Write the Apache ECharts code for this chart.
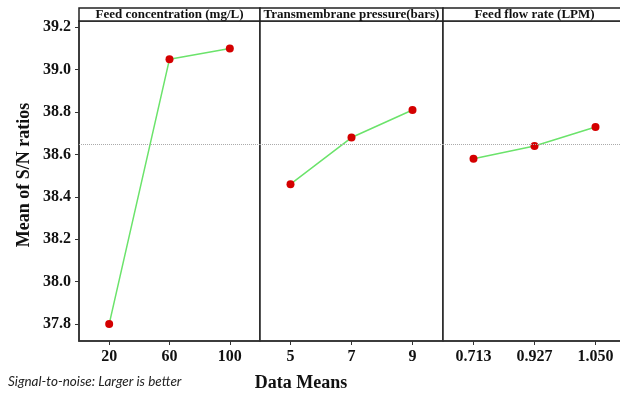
<!DOCTYPE html>
<html>
<head>
<meta charset="utf-8">
<script src="https://cdn.jsdelivr.net/npm/echarts@6.0.0/dist/echarts.min.js"></script>
<style>
html, body { margin: 0; padding: 0; background: #fff; }
#main { width: 620px; height: 397px; }
</style>
</head>
<body>
<div id="main"></div>
<script>
// 因子水平（x轴分类）
var concLevels = ['20', '60', '100'];
var pressLevels = ['5', '7', '9'];
var flowLevels = ['0.713', '0.927', '1.050'];
// S/N 比均值
var concSN = [37.80, 39.05, 39.10];
var pressSN = [38.46, 38.68, 38.81];
var flowSN = [38.58, 38.64, 38.73];
// 面板标题
var panelTitles = ['Feed concentration (mg/L)', 'Transmembrane pressure(bars)', 'Feed flow rate (LPM)'];
// y轴刻度
var yTicks = [37.8, 38.0, 38.2, 38.4, 38.6, 38.8, 39.0, 39.2];
var grandMean = 38.65;

var levels = [concLevels, pressLevels, flowLevels];
var values = [concSN, pressSN, flowSN];

// 面板位置
var panelLeft = [79, 260, 443];
var panelWidth = [181, 183, 183];
var panelTop = 21, panelHeight = 320;
var serif = '"Liberation Serif", "Times New Roman", serif';

var grids = [], xAxes = [], yAxes = [], series = [], graphics = [];
for (var i = 0; i < 3; i++) {
	grids.push({
		left: panelLeft[i], top: panelTop, width: panelWidth[i], height: panelHeight,
		show: true, borderColor: '#222', borderWidth: 1.5, backgroundColor: '#fff',
		containLabel: false, outerBoundsMode: 'none'
	});
	xAxes.push({
		type: 'category', gridIndex: i, data: levels[i], boundaryGap: true,
		axisLine: { show: true, lineStyle: { color: '#333', width: 1.5 } },
		axisTick: { show: true, alignWithLabel: true, length: 4, lineStyle: { color: '#333' } },
		axisLabel: { margin: 8, color: '#111', fontFamily: serif, fontWeight: 'bold', fontSize: 16 },
		splitLine: { show: false }
	});
	yAxes.push({
		type: 'value', gridIndex: i, min: 37.72, max: 39.23,
		show: i === 0,
		name: i === 0 ? 'Mean of S/N ratios' : '',
		nameLocation: 'middle', nameGap: 46,
		nameTextStyle: { color: '#111', fontFamily: serif, fontWeight: 'bold', fontSize: 18, padding: [0, 0, 0, 12] },
		axisLine: { show: true, lineStyle: { color: '#333', width: 1.5 } },
		axisTick: { show: true, length: 4, customValues: yTicks, lineStyle: { color: '#333' } },
		axisLabel: {
			margin: 8, color: '#111', fontFamily: serif, fontWeight: 'bold', fontSize: 16,
			customValues: yTicks,
			formatter: function(v) { return v.toFixed(1); }
		},
		splitLine: { show: false }
	});
	series.push({
		type: 'line', xAxisIndex: i, yAxisIndex: i, data: values[i],
		symbol: 'circle', symbolSize: 8,
		itemStyle: { color: '#d40000' },
		lineStyle: { color: '#6be36b', width: 1.5 },
		markLine: {
			silent: true, symbol: 'none', label: { show: false },
			lineStyle: { color: '#aaa', type: 'dotted', width: 1 },
			data: [{ yAxis: grandMean }]
		}
	});
	// 面板标题框
	graphics.push({
		type: 'rect', z: 10,
		shape: { x: panelLeft[i], y: 8, width: panelWidth[i], height: 13 },
		style: { fill: '#fff', stroke: '#222', lineWidth: 1.5 }
	});
	graphics.push({
		type: 'text', z: 11,
		style: {
			text: panelTitles[i], x: panelLeft[i] + panelWidth[i] / 2, y: 15,
			align: 'center', verticalAlign: 'middle',
			fontFamily: serif, fontWeight: 'bold', fontSize: 13, fill: '#111'
		}
	});
}
graphics.push({
	type: 'text',
	style: {
		text: 'Data Means', x: 301, y: 383, align: 'center', verticalAlign: 'middle',
		fontFamily: serif, fontWeight: 'bold', fontSize: 18, fill: '#111'
	}
});
graphics.push({
	type: 'text',
	style: {
		text: 'Signal-to-noise: Larger is better', x: 8, y: 382, align: 'left', verticalAlign: 'middle',
		fontFamily: 'Lato, "Open Sans", sans-serif', fontStyle: 'italic', fontSize: 13.5, fill: '#222'
	}
});

var myChart = echarts.init(document.getElementById('main'));
myChart.setOption({
	animation: false,
	backgroundColor: '#fff',
	grid: grids,
	xAxis: xAxes,
	yAxis: yAxes,
	series: series,
	graphic: graphics
});
</script>
</body>
</html>
